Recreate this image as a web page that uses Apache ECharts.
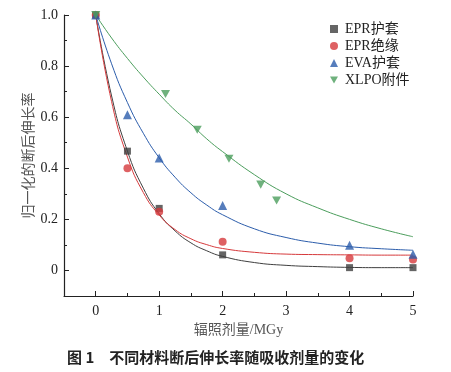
<!DOCTYPE html>
<html><head><meta charset="utf-8">
<script src="https://cdn.jsdelivr.net/npm/echarts@6/dist/echarts.min.js"></script>
<style>html,body{margin:0;padding:0;background:#fff}#c{width:451px;height:372px}</style>
</head><body><div id="c"></div>
<script>
// measured points
const eprSheathX = [0, 0.5, 1, 2, 4, 5];
const eprSheathY = [1.0, 0.467, 0.243, 0.061, 0.011, 0.011];
const eprInsX = [0, 0.5, 1, 2, 4, 5];
const eprInsY = [1.0, 0.40, 0.23, 0.112, 0.048, 0.043];
const evaX = [0, 0.5, 1, 2, 4, 5];
const evaY = [1.0, 0.61, 0.44, 0.254, 0.099, 0.063];
const xlpoX = [0, 1.1, 1.6, 2.1, 2.6, 2.85];
const xlpoY = [1.0, 0.691, 0.551, 0.437, 0.336, 0.274];
// fitted curves
const fitX = [0, 0.25, 0.5, 0.75, 1, 1.25, 1.5, 1.75, 2, 2.5, 3, 3.5, 4, 4.5, 5];
const fitEprSheath = [1.0, 0.683, 0.467, 0.322, 0.222, 0.155, 0.108, 0.077, 0.055, 0.031, 0.020, 0.015, 0.012, 0.011, 0.011];
const fitEprIns = [1.0, 0.661, 0.444, 0.305, 0.217, 0.160, 0.124, 0.101, 0.086, 0.071, 0.064, 0.062, 0.061, 0.060, 0.060];
const fitEva = [1.0, 0.809, 0.657, 0.537, 0.441, 0.365, 0.304, 0.256, 0.218, 0.163, 0.129, 0.107, 0.093, 0.085, 0.079];
const fitXlpo = [1.0, 0.91, 0.83, 0.757, 0.69, 0.627, 0.573, 0.515, 0.465, 0.375, 0.30, 0.245, 0.20, 0.163, 0.132];
const names = ['EPR护套', 'EPR绝缘', 'EVA护套', 'XLPO附件'];
const xTicks = [0, 1, 2, 3, 4, 5];
const yTicks = [0, 0.2, 0.4, 0.6, 0.8, 1.0];
const colors = ['#3f3f3f', '#d63a3c', '#2c5dab', '#4b9d5c'];

const zip = (xs, ys) => xs.map((x, i) => [x, ys[i]]);
const serif = 'Liberation Serif, DejaVu Serif, serif';
const cjk = 'Liberation Serif, Noto Sans CJK SC, serif';
const downTri = 'path://M0,0 L10,0 L5,9 Z';

const chart = echarts.init(document.getElementById('c'));
const fitSeries = [fitEprSheath, fitEprIns, fitEva, fitXlpo].map((d, i) => ({
  type: 'line', data: zip(fitX, d), smooth: true, showSymbol: false, silent: true,
  lineStyle: { color: colors[i], width: 1 }, z: 1
}));
const ptData = [zip(eprSheathX, eprSheathY), zip(eprInsX, eprInsY), zip(evaX, evaY), zip(xlpoX, xlpoY)];
const symbols = ['rect', 'circle', 'triangle', downTri];
const sizes = [7, 8, 9, 9];
const ptSeries = ptData.map((d, i) => ({
  name: names[i], type: 'scatter', data: d, symbol: symbols[i], symbolSize: sizes[i],
  symbolKeepAspect: true, itemStyle: { color: colors[i] }, z: 3
}));

chart.setOption({
  animation: false,
  grid: { left: 64, top: 15, right: 38, bottom: 76 },
  legend: {
    data: names.map((n, i) => ({ name: n, icon: symbols[i] })),
    orient: 'vertical', left: 330, top: 22, padding: 0, itemWidth: 8, itemHeight: 8, itemGap: 3,
    textStyle: { fontFamily: cjk, fontSize: 14, lineHeight: 14, color: '#222', padding: [0, 0, 0, 2] }
  },
  xAxis: [{
    type: 'value', min: -0.5, max: 5,
    name: '辐照剂量/MGy', nameLocation: 'middle', nameGap: 27,
    nameTextStyle: { fontFamily: cjk, fontSize: 14, color: '#555' },
    axisLine: { onZero: false, lineStyle: { color: '#222', width: 1.2 } },
    axisTick: { inside: true, length: 5, customValues: xTicks, lineStyle: { color: '#222' } },
    axisLabel: { customValues: xTicks, fontFamily: serif, fontSize: 14, color: '#222', margin: 8 },
    splitLine: { show: false }
  }, {
    type: 'value', min: -0.5, max: 5, interval: 0.5, position: 'bottom',
    axisLine: { show: false, onZero: false }, axisLabel: { show: false }, splitLine: { show: false },
    axisTick: { inside: true, length: 3, lineStyle: { color: '#222' } }
  }],
  yAxis: [{
    type: 'value', min: -0.1, max: 1.0,
    name: '归一化的断后伸长率', nameLocation: 'middle', nameGap: 29, nameRotate: 90,
    nameMoveOverlap: false,
    nameTextStyle: { fontFamily: 'Noto Sans CJK SC, sans-serif', fontSize: 14, color: '#555' },
    axisLine: { show: true, onZero: false, lineStyle: { color: '#222', width: 1.2 } },
    axisTick: { show: true, inside: true, length: 5, customValues: yTicks, lineStyle: { color: '#222' } },
    axisLabel: { customValues: yTicks, fontFamily: serif, fontSize: 14, color: '#222', margin: 6,
      formatter: v => (v === 0 ? '0' : v.toFixed(1)) },
    splitLine: { show: false }
  }, {
    type: 'value', min: -0.1, max: 1.0, interval: 0.1, position: 'left',
    axisLine: { show: false, onZero: false }, axisLabel: { show: false }, splitLine: { show: false },
    axisTick: { show: true, inside: true, length: 3, lineStyle: { color: '#222' } }
  }],
  graphic: [{
    type: 'text', left: 67, top: 350,
    style: { text: '图 1　不同材料断后伸长率随吸收剂量的变化', font: 'bold 15px "Noto Sans CJK SC", serif', fill: '#222' }
  }],
  series: fitSeries.concat(ptSeries)
});
</script></body></html>
